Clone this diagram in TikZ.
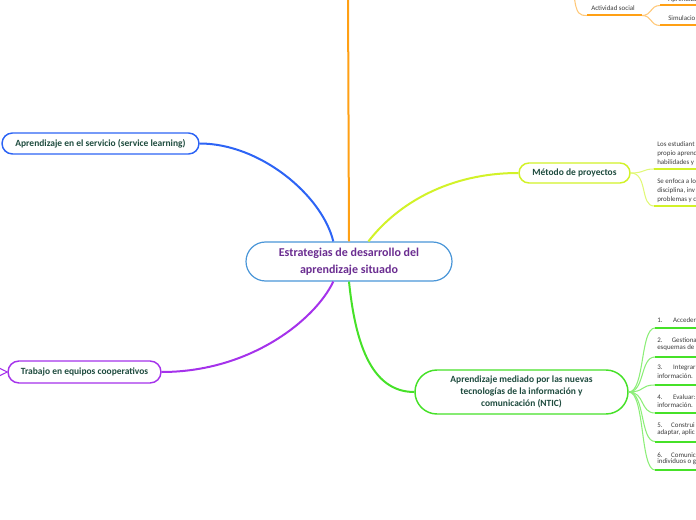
\documentclass[tikz,border=0pt]{standalone}
\usepackage{fontspec}
\setmainfont{Carlito}
\usetikzlibrary{shapes.misc}
\definecolor{cblue}{RGB}{74,150,216}
\definecolor{ctitle}{RGB}{107,45,145}
\definecolor{ntext}{RGB}{30,75,62}
\definecolor{stext}{RGB}{60,60,60}
\definecolor{lblue}{RGB}{45,100,245}
\definecolor{lpurple}{RGB}{165,50,235}
\definecolor{lyellow}{RGB}{210,242,40}
\definecolor{lyellowl}{RGB}{225,248,120}
\definecolor{lgreen}{RGB}{70,225,40}
\definecolor{lgreenl}{RGB}{140,238,120}
\definecolor{lorange}{RGB}{255,160,20}
\definecolor{lorangel}{RGB}{255,200,120}
\begin{document}
\begin{tikzpicture}[x=0.75pt,y=-0.75pt,
  topic/.style={draw, rounded rectangle, fill=white, inner sep=0pt, align=center,
    font=\bfseries\fontsize{7.1}{9}\selectfont, text=ntext, line width=1.1pt},
  conn/.style={line width=1.5pt},
  subconn/.style={line width=0.8pt},
  uline/.style={line width=1.5pt},
  subtxt/.style={inner sep=0pt, anchor=base west, font=\fontsize{5.2}{6}\selectfont, text=stext}]
\useasboundingbox (0,0) rectangle (696,520);
\clip (0,0) rectangle (696,520);

% nodes
\node[topic, draw=cblue, line width=0.9pt, text=ctitle, minimum width=154.5pt, minimum height=29.25pt,
  font=\bfseries\fontsize{9}{12.75}\selectfont] (c) at (349,261.5)
  {Estrategias de desarrollo del\\aprendizaje situado};
\node[topic, draw=lblue, minimum width=147.75pt, minimum height=15.75pt] (sl) at (100.5,143.5)
  {Aprendizaje en el servicio (service learning)};
\node[topic, draw=lpurple, minimum width=114.75pt, minimum height=16.5pt] (tr) at (84.5,372)
  {Trabajo en equipos cooperativos};
\node[topic, draw=lyellow, minimum width=83.25pt, minimum height=15pt] (mp) at (574.5,173)
  {Método de proyectos};
\node[topic, draw=lgreen, minimum width=159.75pt, minimum height=33pt] (nt) at (521.5,392)
  {Aprendizaje mediado por las nuevas\\tecnologías de la información y\\comunicación (NTIC)};

% coordinates
\coordinate (otop) at (348,-10);
\coordinate (otop2) at (574,-6);
\coordinate (as1) at (587,15.5);
\coordinate (as2) at (642,15.5);
\coordinate (ap1) at (660,5.5);
\coordinate (ap2) at (700,5.5);
\coordinate (si1) at (660,25.5);
\coordinate (si2) at (700,25.5);
\coordinate (trl1) at (-3,367);
\coordinate (trl2) at (-3,377);

% main connectors
\draw[conn, lorange] (c.north) -- (otop);
\draw[conn, lblue] (c.128) .. controls (322,195) and (260,143.5) .. (sl.east);
\draw[conn, lpurple] (c.232) .. controls (315,320) and (250,372) .. (tr.east);
\draw[conn, lyellow] (c.46) .. controls (398,203) and (450,173) .. (mp.west);
\draw[conn, lgreen] (c.south) .. controls (355,340) and (370,392) .. (nt.west);
\draw[subconn, lpurple] (tr.west) -- (trl1);
\draw[subconn, lpurple] (tr.west) -- (trl2);

% top right: Actividad social
\draw[subconn, lorangel] (otop2) .. controls (576,15.5) and (580,15.5) .. (as1);
\draw[uline, lorange] (as1) -- (as2);
\node[subtxt] (ast) at (591,11) {Actividad social};
\draw[subconn, lorangel] (as2) .. controls (652,15.5) and (650,5.5) .. (ap1);
\draw[uline, lorange] (ap1) -- (ap2);
\node[subtxt] (apt) at (668,1.5) {Aprendiza};
\draw[subconn, lorangel] (as2) .. controls (652,15.5) and (650,25.5) .. (si1);
\draw[uline, lorange] (si1) -- (si2);
\node[subtxt] (sit) at (668,21) {Simulacio};

% Metodo de proyectos subtopics
\coordinate (m1a) at (654,169);
\coordinate (m1b) at (700,169);
\coordinate (m2a) at (654,206);
\coordinate (m2b) at (700,206);
\draw[subconn, lyellowl] (mp.east) .. controls (645,173) and (642,169) .. (m1a);
\draw[subconn, lyellowl] (mp.east) .. controls (648,173) and (640,206) .. (m2a);
\draw[uline, lyellow] (m1a) -- (m1b);
\draw[uline, lyellow] (m2a) -- (m2b);
\node[subtxt] (mt1) at (657,147) {Los estudiant};
\node[subtxt] (mt2) at (657,156) {propio aprend};
\node[subtxt] (mt3) at (657,165) {habilidades y};
\node[subtxt] (mt4) at (657,184) {Se enfoca a lo};
\node[subtxt] (mt5) at (657,193) {disciplina, inv};
\node[subtxt] (mt6) at (657,202) {problemas y c};

% NTIC subtopics
\foreach \u [count=\i] in {328,357,385,413,441.5,470}{
  \coordinate (n\i a) at (655,\u);
  \coordinate (n\i b) at (700,\u);
  \draw[subconn, lgreenl] (nt.east) .. controls (645,392) and (640,\u) .. (n\i a);
  \draw[uline, lgreen] (n\i a) -- (n\i b);
}
\node[subtxt] (nt1) at (657,322) {1.\hspace{8pt}Acceder:};
\node[subtxt] (nt2) at (657,342) {2.\hspace{7pt}Gestiona};
\node[subtxt] (nt2b) at (657,349.5) {esquemas de};
\node[subtxt] (nt3) at (657,369.5) {3.\hspace{8pt}Integrar:};
\node[subtxt] (nt3b) at (657,378) {información.};
\node[subtxt] (nt4) at (657,399.5) {4.\hspace{8pt}Evaluar:};
\node[subtxt] (nt4b) at (657,407) {información.};
\node[subtxt] (nt5) at (657,427) {5.\hspace{6.5pt}Construi};
\node[subtxt] (nt5b) at (657,434) {adaptar, aplic};
\node[subtxt] (nt6) at (657,457) {6.\hspace{6.5pt}Comunica};
\node[subtxt] (nt6b) at (657,463.5) {individuos o g};
\end{tikzpicture}
\end{document}
